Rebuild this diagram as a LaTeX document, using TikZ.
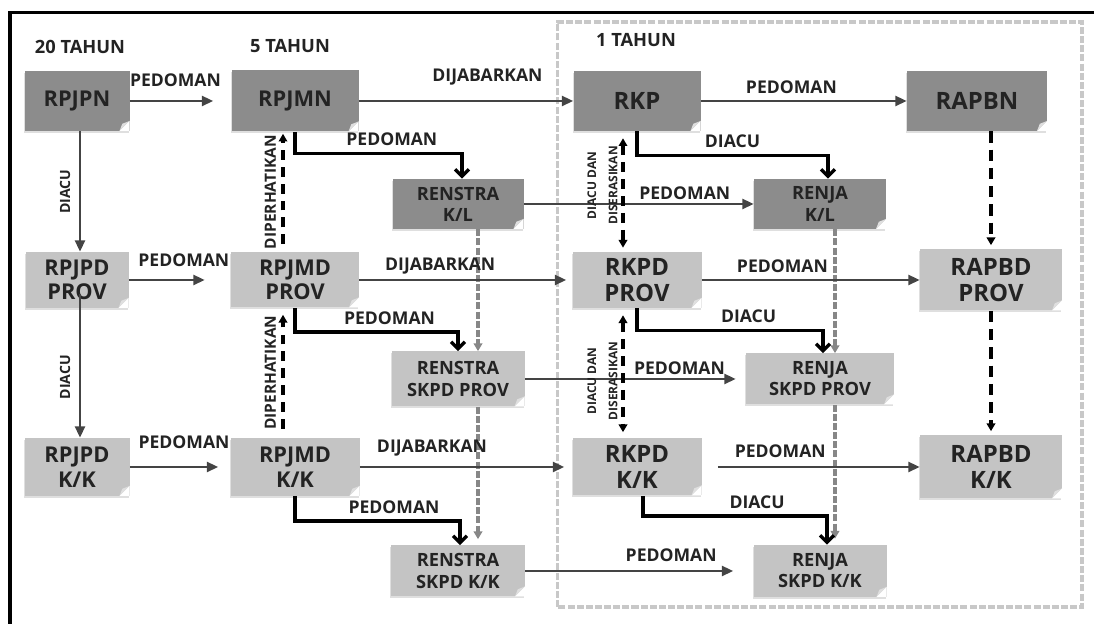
\documentclass[tikz,border=0pt]{standalone}
\usepackage{fontspec}
\setmainfont{Open Sans}
\usepackage{tikz}
\usetikzlibrary{arrows.meta, shadows}
\definecolor{abuTua}{RGB}{140,140,140}
\definecolor{abuMuda}{RGB}{196,196,196}
\definecolor{abuGaris}{RGB}{135,135,135}
\definecolor{abuBingkai}{RGB}{200,200,200}
\definecolor{hitamTeks}{RGB}{35,35,35}
\tikzset{
  pl/box/.style={rectangle, draw=none, align=center, inner sep=2pt,
    text=hitamTeks,
    drop shadow={shadow xshift=-0.4pt, shadow yshift=-1.2pt, opacity=0.25},
    path picture={
      \fill[white] ([xshift=-2.5mm]path picture bounding box.south east)
        -- ([yshift=2.5mm]path picture bounding box.south east)
        -- (path picture bounding box.south east) -- cycle;
      \fill[gray!25] ([xshift=-2.5mm]path picture bounding box.south east)
        -- ([yshift=2.5mm]path picture bounding box.south east)
        -- ([xshift=-1.8mm,yshift=1.8mm]path picture bounding box.south east) -- cycle;
    }},
  pl/nat/.style={pl/box, fill=abuTua},
  pl/reg/.style={pl/box, fill=abuMuda},
  pl/big/.style={font=\bfseries\fontsize{17}{19}\selectfont},
  pl/mid/.style={font=\bfseries\fontsize{15.5}{17.5}\selectfont},
  pl/sml/.style={font=\bfseries\fontsize{13}{15}\selectfont},
  pl/head/.style={font=\bfseries\fontsize{13}{15}\selectfont, text=hitamTeks},
  pl/lbl/.style={font=\bfseries\fontsize{12.5}{14}\selectfont,
    text=hitamTeks, inner sep=1pt},
  pl/vlbl/.style={font=\bfseries\fontsize{10}{12}\selectfont,
    text=hitamTeks, inner sep=1pt, rotate=90, anchor=south},
  pl/vlbl2/.style={font=\bfseries\fontsize{8.5}{15}\selectfont, align=center,
    text=hitamTeks, inner sep=1pt, rotate=90, anchor=south, outer sep=3pt},
  pl/arr/.style={-{Triangle[length=8pt,width=7pt]}, line width=1.7pt,
    draw=hitamTeks!85},
  pl/elb/.style={-{Straight Barb[length=5pt,width=10pt]}, line width=2.4pt,
    draw=black},
  pl/dash/.style={-{Triangle[length=5.5pt,width=6pt]}, line width=2.2pt,
    draw=black, dash pattern=on 7pt off 5pt},
  pl/dashdua/.style={pl/dash,
    {Triangle[length=5.5pt,width=6pt]}-{Triangle[length=5.5pt,width=6pt]}},
  pl/tebal/.style={pl/dash, line width=2.8pt, dash pattern=on 8pt off 5pt},
  pl/gdash/.style={-{Triangle[length=5.5pt,width=6pt]}, line width=2.4pt,
    draw=abuGaris, dash pattern=on 5pt off 1.5pt}
}
\begin{document}
\begin{tikzpicture}[x=1cm, y=1cm]
  \useasboundingbox (0,0) rectangle (27.35,15.6);
  % bingkai luar dan kotak 1 tahun
  \draw[line width=2.2pt] (0.25,0) -- (0.25,15.28) -- (27.35,15.28);
  \draw[draw=abuBingkai, line width=2.2pt, dash pattern=on 5pt off 1.5pt]
        (13.93,0.425) rectangle (27.05,15.05);

  \node[pl/head] (h20) at (2.0, 14.43) {20 TAHUN};
  \node[pl/head] (h5)  at (7.25,14.45) {5 TAHUN};
  \node[pl/head] (h1)  at (15.9,14.6)  {1 TAHUN};

  \node[pl/nat, pl/mid, minimum width=26.25mm, minimum height=15mm]
        (pn) at (1.925,13.075) {RPJPN};
  \node[pl/nat, pl/mid, minimum width=31.75mm, minimum height=15.25mm]
        (mn) at (7.375,13.075) {RPJMN};
  \node[pl/nat, pl/big, minimum width=31.75mm, minimum height=15mm]
        (kp) at (15.925,13.075) {RKP};
  \node[pl/nat, pl/big, minimum width=35mm, minimum height=15mm]
        (bn) at (24.425,13.075) {RAPBN};
  \node[pl/nat, pl/sml, minimum width=32.75mm, minimum height=12.5mm]
        (rkl) at (11.45,10.5) {RENSTRA\\K/L};
  \node[pl/nat, pl/sml, minimum width=33mm, minimum height=12.5mm]
        (jkl) at (20.5,10.5) {RENJA\\K/L};

  \node[pl/reg, pl/mid, minimum width=25.75mm, minimum height=14mm]
        (pdp) at (1.925,8.6) {RPJPD\\PROV};
  \node[pl/reg, pl/mid, minimum width=32mm, minimum height=13.75mm]
        (mdp) at (7.375,8.6) {RPJMD\\PROV};
  \node[pl/reg, pl/big, minimum width=32.25mm, minimum height=14mm]
        (kdp) at (15.925,8.6) {RKPD\\PROV};
  \node[pl/reg, pl/big, minimum width=35.5mm, minimum height=15.25mm]
        (bdp) at (24.775,8.6) {RAPBD\\PROV};
  \node[pl/reg, pl/sml, minimum width=33.25mm, minimum height=13.75mm]
        (rsp) at (11.45,6.125) {RENSTRA\\SKPD PROV};
  \node[pl/reg, pl/sml, minimum width=37mm, minimum height=12.75mm]
        (jsp) at (20.5,6.125) {RENJA\\SKPD PROV};

  \node[pl/reg, pl/mid, minimum width=26.25mm, minimum height=14.5mm]
        (pdk) at (1.925,3.925) {RPJPD\\K/K};
  \node[pl/reg, pl/mid, minimum width=32.25mm, minimum height=14.5mm]
        (mdk) at (7.375,3.925) {RPJMD\\K/K};
  \node[pl/reg, pl/big, minimum width=32.25mm, minimum height=14.25mm]
        (kdk) at (15.925,3.925) {RKPD\\K/K};
  \node[pl/reg, pl/big, minimum width=35.5mm, minimum height=15.75mm]
        (bdk) at (24.775,3.925) {RAPBD\\K/K};
  \node[pl/reg, pl/sml, minimum width=33.5mm, minimum height=12.75mm]
        (rsk) at (11.45,1.325) {RENSTRA\\SKPD K/K};
  \node[pl/reg, pl/sml, minimum width=33.25mm, minimum height=13mm]
        (jsk) at (20.5,1.325) {RENJA\\SKPD K/K};

  % garis abu-abu putus-putus
  \draw[pl/gdash] ([xshift=5mm]rkl.south) -- ([xshift=5mm]rsp.north);
  \draw[pl/gdash, shorten >=1.5mm] ([xshift=5mm]rsp.south) -- ([xshift=5mm]rsk.north);
  \draw[pl/gdash] ([xshift=3.75mm]jkl.south) -- ([xshift=3.75mm]jsp.north);
  \draw[pl/gdash, shorten >=1.5mm] ([xshift=3.75mm]jsp.south) -- ([xshift=3.75mm]jsk.north);

  \draw[pl/arr, shorten >=4.5mm] (pn) -- node[pl/lbl, above=8pt, pos=0.45]{PEDOMAN} (mn);
  \draw[pl/arr] (mn) -- node[pl/lbl, above=9.4pt, pos=0.6]{DIJABARKAN} (kp);
  \draw[pl/arr] (kp) -- node[pl/lbl, above=3.7pt, pos=0.44]{PEDOMAN} (bn);
  \draw[pl/arr] (rkl) -- node[pl/lbl, above=1pt, pos=0.7]{PEDOMAN} (jkl);
  \draw[pl/arr, shorten >=6.5mm] (pdp) -- node[pl/lbl, above=7.3pt, pos=0.54]{PEDOMAN} (mdp);
  \draw[pl/arr, shorten >=1.5mm] (mdp) -- node[pl/lbl, above=2.3pt, pos=0.38]{DIJABARKAN} (kdp);
  \draw[pl/arr] (kdp) -- node[pl/lbl, above=3pt, pos=0.37]{PEDOMAN} (bdp);
  \draw[pl/arr, shorten >=2.5mm] (rsp) -- node[pl/lbl, above=1pt, pos=0.7]{PEDOMAN} (jsp);
  \draw[pl/arr, shorten >=3mm] (pdk) -- node[pl/lbl, above=10.9pt, pos=0.54]{PEDOMAN} (mdk);
  \draw[pl/arr, shorten >=2mm] (mdk) -- node[pl/lbl, above=5.9pt, pos=0.34]{DIJABARKAN} (kdk);
  \draw[pl/arr, shorten <=4mm] (kdk) -- node[pl/lbl, above=4.5pt, pos=0.36]{PEDOMAN} (bdk);
  \draw[pl/arr, shorten >=5mm] (rsk) -- node[pl/lbl, above=4.5pt, pos=0.64]{PEDOMAN} (jsk);

  \draw[pl/elb] (mn.south) -- ++(0,-0.54)
        -| node[pl/lbl, above=3pt, pos=0.29]{PEDOMAN} ([xshift=1mm]rkl.north);
  \draw[pl/elb] (kp.south) -- ++(0,-0.6)
        -| node[pl/lbl, above=3pt, pos=0.25]{DIACU} ([xshift=2mm]jkl.north);
  \draw[pl/elb] (mdp.south) -- ++(0,-0.61)
        -| node[pl/lbl, above=3pt, pos=0.29]{PEDOMAN} (rsp.north);
  \draw[pl/elb] (kdp.south) -- ++(0,-0.55)
        -| node[pl/lbl, above=3pt, pos=0.3]{DIACU} ([xshift=0.75mm]jsp.north);
  \draw[pl/elb] (mdk.south) -- ++(0,-0.62)
        -| node[pl/lbl, above=3pt, pos=0.3]{PEDOMAN} ([xshift=0.5mm]rsk.north);
  \draw[pl/elb] ([xshift=1.5mm]kdk.south) -- ++(0,-0.51)
        -| node[pl/lbl, above=3pt, pos=0.31]{DIACU} ([xshift=1.75mm]jsk.north);

  \draw[pl/arr] ([xshift=0.75mm]pn.south)
        -- node[pl/vlbl, midway, outer sep=6pt]{DIACU} ([xshift=0.75mm]pdp.north);
  \draw[pl/arr] ([xshift=0.75mm,yshift=-3.5mm]pdp.center)
        -- node[pl/vlbl, pos=0.58, outer sep=6pt]{DIACU} ([xshift=0.75mm]pdk.north);

  \draw[pl/dash, shorten <=2mm, shorten >=0.5mm] ([xshift=-3mm]mdp.north)
        -- node[pl/vlbl, midway, outer sep=4pt, font=\bfseries\fontsize{11}{13}\selectfont]
        {DIPERHATIKAN} ([xshift=-3mm]mn.south);
  \draw[pl/dash, shorten <=2.25mm, shorten >=1.75mm] ([xshift=-3mm]mdk.north)
        -- node[pl/vlbl, midway, outer sep=4pt, font=\bfseries\fontsize{11}{13}\selectfont]
        {DIPERHATIKAN} ([xshift=-3mm]mdp.south);

  \draw[pl/dashdua, shorten <=1.75mm, shorten >=1mm] ([xshift=-3.5mm]kp.south)
        -- node[pl/vlbl2, pos=0.45]{DIACU DAN\\DISERASIKAN} ([xshift=-3.5mm]kdp.north);
  \draw[pl/dashdua, shorten <=1.75mm, shorten >=1.5mm] ([xshift=-3.5mm]kdp.south)
        -- node[pl/vlbl2, pos=0.56]{DIACU DAN\\DISERASIKAN} ([xshift=-3.5mm]kdk.north);

  \draw[pl/tebal, shorten >=1mm] (bdp.north |- bn.south) -- (bdp.north);
  \draw[pl/tebal, shorten >=1mm] (bdp.south) -- (bdk.north);
\end{tikzpicture}
\end{document}
